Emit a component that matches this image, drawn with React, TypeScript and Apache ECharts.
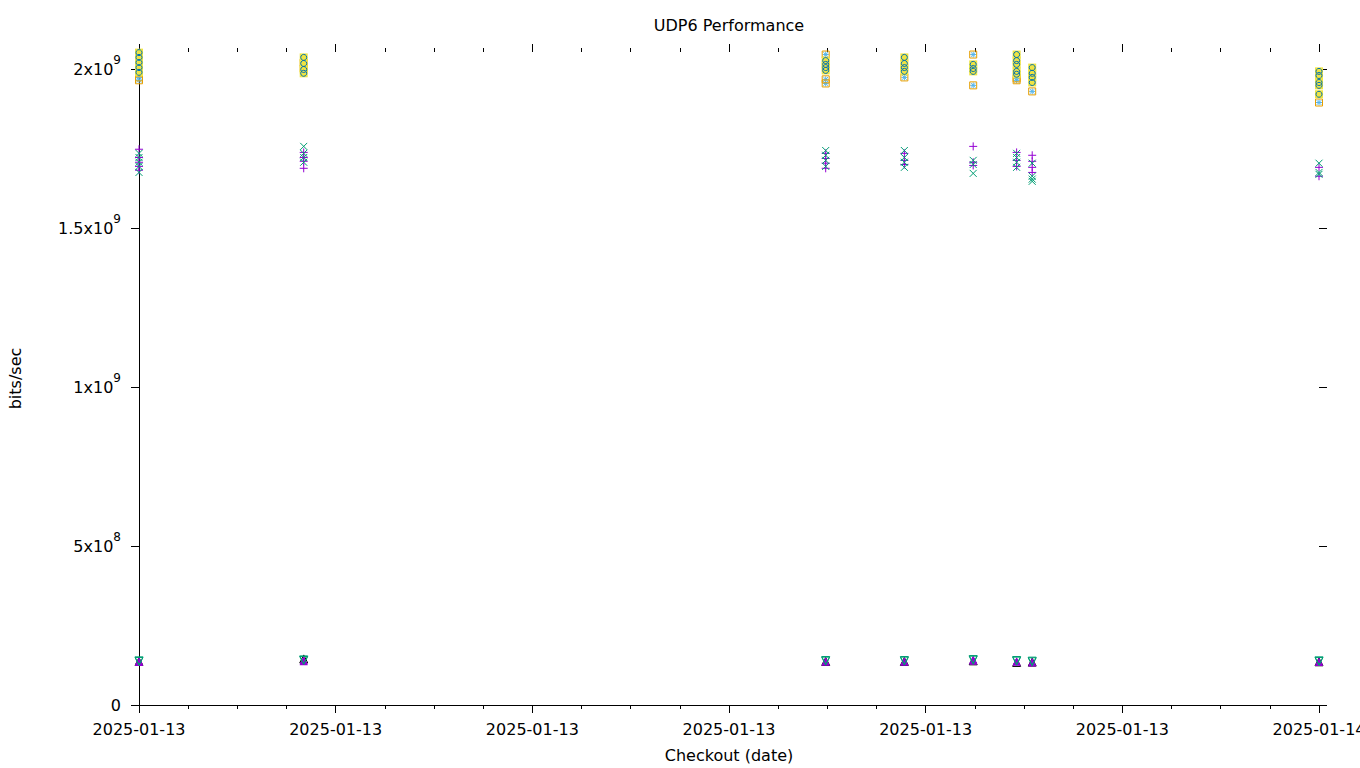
import React, { useEffect, useRef } from "react";
import * as echarts from "echarts";

// Checkout timestamps (UTC)
const checkouts: string[] = [
  "2025-01-13T00:00:00Z",
  "2025-01-13T03:21:00Z",
  "2025-01-13T13:58:00Z",
  "2025-01-13T15:34:00Z",
  "2025-01-13T16:58:00Z",
  "2025-01-13T17:51:00Z",
  "2025-01-13T18:10:00Z",
  "2025-01-14T00:00:00Z",
];

// Values in Gbit/s, one list of runs per checkout
const purplePlus: number[][] = [
  [1.749, 1.723, 1.708, 1.695, 1.683],
  [1.739, 1.723, 1.711, 1.689],
  [1.736, 1.72, 1.705, 1.689],
  [1.736, 1.714, 1.701],
  [1.758, 1.708, 1.698],
  [1.739, 1.714, 1.695],
  [1.73, 1.711, 1.692, 1.676],
  [1.692, 1.664],
];
const greenCross: number[][] = [
  [1.736, 1.723, 1.708, 1.695, 1.676],
  [1.758, 1.736, 1.723, 1.708],
  [1.745, 1.73, 1.714, 1.695],
  [1.745, 1.723, 1.708, 1.692],
  [1.714, 1.701, 1.673],
  [1.736, 1.723, 1.708, 1.692],
  [1.705, 1.664, 1.655, 1.648],
  [1.705, 1.676, 1.67],
];
const lightBlueStar: number[][] = [
  [1.975, 1.966],
  [2.022, 2.003],
  [2.047, 1.969, 1.956],
  [1.975],
  [2.047, 1.95],
  [1.972, 1.966],
  [1.931],
  [1.896],
];
const orangeSquare: number[][] = [
  [1.975, 1.966],
  [2.022, 2.003],
  [2.047, 1.969, 1.956],
  [1.975],
  [2.047, 1.95],
  [1.972, 1.966],
  [1.931],
  [1.896],
];
const yellowSquare: number[][] = [
  [2.053, 2.038, 2.022, 2.006, 1.991],
  [2.038, 2.019, 2.0, 1.988],
  [2.028, 2.016, 2.006, 1.997],
  [2.038, 2.019, 2.006, 1.994],
  [2.016, 2.003, 1.994],
  [2.047, 2.028, 2.016, 1.994, 1.985],
  [2.006, 1.988, 1.975, 1.959],
  [1.994, 1.981, 1.959, 1.95, 1.922],
];
const blueCircle: number[][] = [
  [2.053, 2.038, 2.022, 2.006, 1.991],
  [2.038, 2.019, 2.0, 1.988],
  [2.028, 2.016, 2.006, 1.997],
  [2.038, 2.019, 2.006, 1.994],
  [2.016, 2.003, 1.994],
  [2.047, 2.028, 2.016, 1.994, 1.985],
  [2.006, 1.988, 1.975, 1.959],
  [1.994, 1.981, 1.959, 1.95, 1.922],
];
const blackTriangle: number[][] = [
  [0.137],
  [0.145],
  [0.137],
  [0.137],
  [0.139],
  [0.134],
  [0.135],
  [0.136],
];
const purpleTriangle: number[][] = [
  [0.135, 0.137, 0.138],
  [0.138, 0.14, 0.141],
  [0.136, 0.138],
  [0.136, 0.138],
  [0.139, 0.142, 0.143],
  [0.136, 0.138],
  [0.134, 0.136],
  [0.135, 0.137],
];
const greenTriangleDown: number[][] = [
  [0.137, 0.139],
  [0.14, 0.142],
  [0.138, 0.14],
  [0.138, 0.14],
  [0.141, 0.143],
  [0.138, 0.14],
  [0.136, 0.138],
  [0.137, 0.139],
];

const yTickValues: number[] = [0, 5e8, 1e9, 1.5e9, 2e9];

const HOUR = 3600 * 1000;
const T0 = Date.UTC(2025, 0, 13);
const T1 = T0 + 24 * HOUR;
const Y_MAX = 2.055e9;
const FONT = "DejaVu Sans";

function toPoints(values: number[][]): [number, number][] {
  const pts: [number, number][] = [];
  values.forEach((runs, i) => {
    const t = Date.parse(checkouts[i]);
    runs.forEach((v) => pts.push([t, v * 1e9]));
  });
  return pts;
}

function sciLabel(v: number): string {
  if (v === 0) return "{a|0}";
  const e = Math.floor(Math.log10(v) + 1e-9);
  const m = +(v / Math.pow(10, e)).toFixed(2);
  return `{a|${m}x10}{s|${e}}`;
}

const SYM_PLUS = "path://M5,0L5,10M0,5L10,5";
const SYM_CROSS = "path://M0,0L10,10M10,0L0,10";
const SYM_STAR = "path://M5,0L5,10M0,5L10,5M1,1L9,9M9,1L1,9";
const SYM_TRI_DOWN = "path://M0,0L10,0L5,9Z";

function mk(name: string, values: number[][], symbol: string, size: number, color: string, filled: boolean) {
  return {
    type: "scatter",
    name,
    data: toPoints(values),
    symbol,
    symbolSize: size,
    clip: false,
    silent: true,
    emphasis: { disabled: true },
    itemStyle: filled
      ? { color, borderWidth: 0, opacity: 1 }
      : { color: "rgba(0,0,0,0)", borderColor: color, borderWidth: 1, opacity: 1 },
  };
}

export default function App() {
  const ref = useRef<HTMLDivElement>(null);
  useEffect(() => {
    if (!ref.current) return;
    const chart = echarts.init(ref.current, undefined, { renderer: "svg" });
    const tickStyle = { color: "#000", width: 1 };
    const xFmt = (v: number) => new Date(v).toISOString().slice(0, 10);
    chart.setOption({
      animation: false,
      backgroundColor: "#fff",
      title: {
        text: "UDP6 Performance",
        left: 729,
        textAlign: "center",
        top: 17,
        padding: 0,
        textStyle: { fontFamily: FONT, fontSize: 16, fontWeight: "normal", color: "#000" },
      },
      grid: { left: 139, right: 41, top: 52, bottom: 63, containLabel: false, outerBoundsMode: "none" },
      xAxis: [
        {
          type: "value",
          min: T0,
          max: T1,
          interval: 4 * HOUR,
          position: "bottom",
          axisLine: { show: true, onZero: false, lineStyle: tickStyle },
          axisTick: { show: true, length: 8, lineStyle: tickStyle },
          minorTick: { show: true, splitNumber: 4, length: 4, lineStyle: tickStyle },
          splitLine: { show: false },
          minorSplitLine: { show: false },
          axisLabel: {
            margin: 16,
            fontFamily: FONT,
            fontSize: 16,
            color: "#000",
            formatter: xFmt,
            showMinLabel: true,
            showMaxLabel: true,
            hideOverlap: false,
          },
          name: "Checkout (date)",
          nameLocation: "middle",
          nameGap: 42,
          nameTextStyle: { fontFamily: FONT, fontSize: 16, color: "#000" },
        },
        {
          type: "value",
          min: T0,
          max: T1,
          interval: 4 * HOUR,
          position: "top",
          axisLine: { show: false, onZero: false },
          axisTick: { show: true, length: 8, lineStyle: tickStyle },
          minorTick: { show: true, splitNumber: 4, length: 4, lineStyle: tickStyle },
          splitLine: { show: false },
          axisLabel: { show: false },
        },
      ],
      yAxis: [
        {
          type: "value",
          min: 0,
          max: Y_MAX,
          interval: 5e8,
          position: "left",
          axisLine: { show: true, onZero: false, lineStyle: tickStyle },
          axisTick: { show: true, length: 8, lineStyle: tickStyle, customValues: yTickValues },
          splitLine: { show: false },
          axisLabel: {
            customValues: yTickValues,
            margin: 18,
            color: "#000",
            fontFamily: FONT,
            formatter: sciLabel,
            rich: {
              a: { fontFamily: FONT, fontSize: 16, color: "#000", lineHeight: 30 },
              s: { fontFamily: FONT, fontSize: 12, color: "#000", verticalAlign: "top", lineHeight: 30 },
            },
          },
          name: "bits/sec",
          nameLocation: "middle",
          nameGap: 116,
          nameTextStyle: { fontFamily: FONT, fontSize: 16, color: "#000" },
        },
        {
          type: "value",
          min: 0,
          max: Y_MAX,
          interval: 5e8,
          position: "right",
          axisLine: { show: false, onZero: false },
          axisTick: { show: true, length: 8, lineStyle: tickStyle, customValues: yTickValues },
          splitLine: { show: false },
          axisLabel: { show: false },
        },
      ],
      series: [
        mk("s1", purplePlus, SYM_PLUS, 8, "#9400d3", false),
        mk("s2", greenCross, SYM_CROSS, 7, "#009e73", false),
        mk("s3", lightBlueStar, SYM_STAR, 6, "#56b4e9", false),
        mk("s4", orangeSquare, "rect", 7, "#e69f00", false),
        mk("s5", yellowSquare, "rect", 8, "#f0e442", true),
        mk("s6", blueCircle, "circle", 6, "#0072b2", false),
        mk("s8", blackTriangle, "triangle", 8, "#000000", false),
        mk("s9", purpleTriangle, "triangle", 8, "#9400d3", true),
        mk("s10", greenTriangleDown, SYM_TRI_DOWN, 8, "#009e73", false),
      ],
    });
    return () => chart.dispose();
  }, []);
  return (
    <div
      ref={ref}
      style={{ position: "absolute", left: 0, top: 0, width: 1360, height: 768, background: "#fff" }}
    />
  );
}
